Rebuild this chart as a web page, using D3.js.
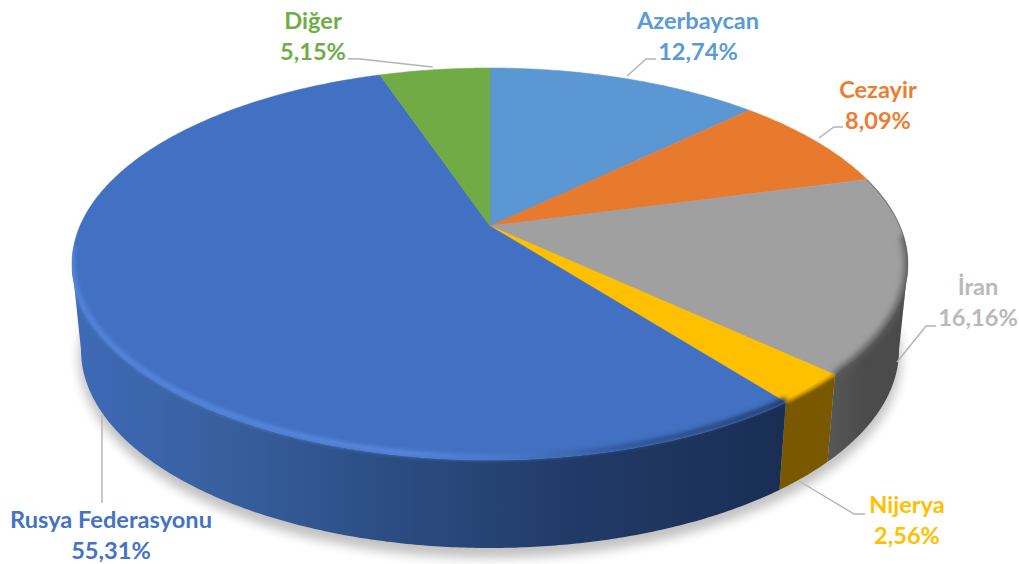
<!DOCTYPE html>
<html>
<head>
<meta charset="utf-8">
<script src="https://cdnjs.cloudflare.com/ajax/libs/d3/7.8.5/d3.min.js"></script>
<style>
html,body{margin:0;padding:0;background:#fff;}
svg{display:block;}
text{font-family:Lato,"Noto Sans",sans-serif;font-weight:700;text-anchor:middle;}
</style>
</head>
<body>
<svg id="chart" width="1019" height="564"></svg>
<script>
const categories = ["Azerbaycan","Cezayir","İran","Nijerya","Rusya Federasyonu","Diğer"];
const shares = [12.74,8.09,16.16,2.56,55.31,5.15];
const shareLabels = ["12,74%","8,09%","16,16%","2,56%","55,31%","5,15%"];
const faceColors = ["#5B97D3","#E87A2E","#A0A0A0","#FFC000","#4270C2","#70AB46"];
const labelColors = ["#5B9BD5","#ED7D31","#B9B9BC","#FFC000","#4472C4","#70AD47"];

const svg = d3.select("#chart");

// Perspective of the disc: the apex sits above the centre of the top ellipse
const tilt = -0.194;
const topX = d3.scaleLinear().domain([-1,1]).range([72,908]);
const topY = d3.scaleLinear().domain([-1,1]).range([68,460]);
const botX = d3.scaleLinear().domain([-1,1]).range([81,899]);
const botY = d3.scaleLinear().domain([-1,1]).range([152,548]);

function project(theta){
  const u = Math.sin(theta), v = -Math.cos(theta);
  const d = 1 + tilt*v;
  return [u*Math.sqrt(1-tilt*tilt)/d, (v+tilt)/d];
}
const onTop = a => { const p = project(a); return [topX(p[0]), topY(p[1])]; };
const onBot = a => { const p = project(a); return [botX(p[0]), botY(p[1])]; };
const sweep = (a,b) => { const n = Math.max(2,Math.ceil((b-a)*120)); return d3.range(n+1).map(i => a+(b-a)*i/n); };
const line = d3.line();
const apex = [topX(0), topY(tilt)];

const arcs = d3.pie().sort(null).value(d => d)(shares);
const frontStart = Math.acos(tilt);             // right silhouette
const frontEnd = 2*Math.PI - frontStart;        // left silhouette

const defs = svg.append("defs");
const blur = (id,s) => defs.append("filter").attr("id",id)
  .attr("x","-10%").attr("y","-20%").attr("width","120%").attr("height","140%")
  .append("feGaussianBlur").attr("stdDeviation",s);
blur("b05",0.7); blur("b1",1.3); blur("b2",1.9); blur("b3",3); blur("b5",5.5);

function grad(id,x1,x2,stops){
  const g = defs.append("linearGradient").attr("id",id).attr("gradientUnits","userSpaceOnUse")
    .attr("x1",x1).attr("x2",x2).attr("y1",0).attr("y2",0);
  stops.forEach(s => g.append("stop").attr("offset",s[0]).attr("stop-color",s[1]));
  return `url(#${id})`;
}
const wallFill = [null,null,
  grad("gGrey",826,905,[[0,"#585858"],[.5,"#4b4b4b"],[1,"#4a4a4a"]]),
  "#7A5800",
  grad("gBlue",80,780,[[0,"#3E69B6"],[.2,"#38609F"],[.45,"#2B4C82"],[.7,"#213B68"],[1,"#1A2E54"]]),
  null];
const rimStroke = [null,null,"#5f5f5f","#B98C00",
  grad("gRim",75,790,[[0,"#5587DC"],[.45,"#5A8CE2"],[.6,"#4C7BCB"],[.76,"#2F5596"],[1,"#1E3560"]]),
  null];

// ground shadow
svg.append("ellipse")
  .attr("cx",botX(0)).attr("cy",botY(0)+8)
  .attr("rx",(botX(1)-botX(-1))/2+2).attr("ry",(botY(1)-botY(-1))/2+2)
  .attr("fill","#000").attr("opacity",.24).attr("filter","url(#b5)");

// side walls
arcs.forEach((d,i) => {
  const a = Math.max(d.startAngle,frontStart), b = Math.min(d.endAngle,frontEnd);
  if (b <= a) return;
  const t = sweep(a,b);
  svg.append("path")
    .attr("d", line(t.map(onTop).concat(t.slice().reverse().map(onBot))) + "Z")
    .attr("fill", wallFill[i]);
});

// top face
arcs.forEach((d,i) => {
  const pts = [apex].concat(sweep(d.startAngle,d.endAngle).map(onTop));
  svg.append("path").attr("d", line(pts)+"Z")
    .attr("fill", faceColors[i])
    .attr("stroke", faceColors[i]).attr("stroke-width",.5);
});

// clip the bevel to the solid
const clip = defs.append("clipPath").attr("id","solid");
clip.append("path").attr("d", line(sweep(0,2*Math.PI).map(onTop))+"Z");
const fullWall = sweep(frontStart,frontEnd);
clip.append("path").attr("d", line(fullWall.map(onTop).concat(fullWall.slice().reverse().map(onBot)))+"Z");

// bevel between face and wall
const bevel = svg.append("g").attr("clip-path","url(#solid)");
const rimPath = (a,b,lift) => line(sweep(a,b).map(onTop).map(p => [p[0],p[1]-lift]));
const iran = arcs[2];
bevel.append("path").attr("d",rimPath(iran.startAngle,iran.endAngle,0))
  .attr("fill","none").attr("stroke","#666").attr("stroke-width",1.8).attr("opacity",.75)
  .attr("filter","url(#b05)");
bevel.append("path").attr("d",rimPath(1.62,iran.endAngle,0))
  .attr("fill","none").attr("stroke","#5a5a5a").attr("stroke-width",7)
  .attr("filter","url(#b3)");
const niger = arcs[3];
bevel.append("path").attr("d",rimPath(niger.startAngle,niger.endAngle,0))
  .attr("fill","none").attr("stroke",rimStroke[3]).attr("stroke-width",3)
  .attr("filter","url(#b1)");
const russia = arcs[4];
bevel.append("path").attr("d",rimPath(russia.startAngle,frontEnd+0.08,3))
  .attr("fill","none").attr("stroke",rimStroke[4]).attr("stroke-width",5)
  .attr("filter","url(#b2)");

// leader lines (annotation layout)
const leaders = [
  [[656,59],[646,59],[627,76]],
  [[843,127],[834,127],[819,138]],
  [[936,326],[926,326],[897,362]],
  [[865,514],[854,514],[799,481]],
  [[102,503],[102,415]],
  [[348,58.7],[360,59],[432.7,67]]
];
svg.append("g").selectAll("path").data(leaders).join("path")
  .attr("d", d => line(d))
  .attr("fill","none").attr("stroke","#B3B3B3").attr("stroke-width",1.4);

// labels (annotation layout)
const labelAnchors = [[698,29],[878,98],[978,295],[907,513],[111,528],[313,29]];
const labelGap = 30.5;
const labels = svg.append("g").style("font-size","23.6px");
categories.forEach((c,i) => {
  const [x,y] = labelAnchors[i];
  labels.append("text").attr("x",x).attr("y",y).attr("fill",labelColors[i]).text(c);
  labels.append("text").attr("x",x).attr("y",y+labelGap).attr("fill",labelColors[i]).text(shareLabels[i]);
});
</script>
</body>
</html>
